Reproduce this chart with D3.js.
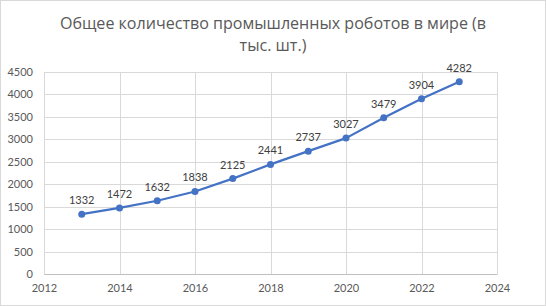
<!DOCTYPE html>
<html>
<head>
<meta charset="utf-8">
<script src="https://cdn.jsdelivr.net/npm/d3@7"></script>
<style>
  body { margin: 0; background: #fff; }
  svg { display: block; font-family: Lato, "Open Sans", sans-serif; }
</style>
</head>
<body>
<div id="chart"></div>
<script>
// data
const years = [2013, 2014, 2015, 2016, 2017, 2018, 2019, 2020, 2021, 2022, 2023];
const robots = [1332, 1472, 1632, 1838, 2125, 2441, 2737, 3027, 3479, 3904, 4282];
const xTicks = [2012, 2014, 2016, 2018, 2020, 2022, 2024];
const yTicks = [0, 500, 1000, 1500, 2000, 2500, 3000, 3500, 4000, 4500];
const titleLines = ["Общее количество промышленных роботов в мире (в", "тыс. шт.)"];

const W = 546, H = 306;
const margin = { top: 72, right: 49, bottom: 32, left: 44 };

const svg = d3.select("#chart").append("svg")
    .attr("width", W)
    .attr("height", H);

// outer border
svg.append("rect")
    .attr("x", 0.5).attr("y", 0.5)
    .attr("width", W - 1).attr("height", H - 1)
    .attr("fill", "#fff")
    .attr("stroke", "#d9d9d9");

const x = d3.scaleLinear().domain([2012, 2024]).range([margin.left, W - margin.right]);
const y = d3.scaleLinear().domain([0, 4500]).range([H - margin.bottom, margin.top]);

// title (Calibri-like narrow look: squeeze Open Sans a bit)
const title = svg.append("g").selectAll("text")
    .data(titleLines)
    .enter().append("text")
    .attr("x", W / 2)
    .attr("y", (d, i) => 29 + i * 22)
    .attr("text-anchor", "middle")
    .attr("fill", "#595959")
    .style("font-family", "\"Open Sans\", sans-serif")
    .style("font-size", "17px")
    .text(d => d);
title.each(function () {
    const w = this.getComputedTextLength();
    d3.select(this).attr("textLength", w * 0.945).attr("lengthAdjust", "spacingAndGlyphs");
});

// gridlines
svg.append("g")
    .selectAll("line.h")
    .data(yTicks)
    .enter().append("line")
    .attr("x1", margin.left).attr("x2", W - margin.right)
    .attr("y1", d => Math.round(y(d)) + 0.5).attr("y2", d => Math.round(y(d)) + 0.5)
    .attr("stroke", "#d9d9d9");

svg.append("g")
    .selectAll("line.v")
    .data(xTicks)
    .enter().append("line")
    .attr("y1", margin.top).attr("y2", H - margin.bottom)
    .attr("x1", d => Math.round(x(d)) + 0.5).attr("x2", d => Math.round(x(d)) + 0.5)
    .attr("stroke", "#d9d9d9");

// axes
const yAxis = svg.append("g")
    .attr("transform", `translate(${margin.left},0)`)
    .call(d3.axisLeft(y).tickValues(yTicks).tickSize(0).tickPadding(11).tickFormat(d3.format("d")));
yAxis.select(".domain").remove();

const xAxis = svg.append("g")
    .attr("transform", `translate(0,${H - margin.bottom})`)
    .call(d3.axisBottom(x).tickValues(xTicks).tickSize(0).tickPadding(10).tickFormat(d3.format("d")));
xAxis.select(".domain").attr("stroke", "#bfbfbf");

svg.selectAll(".tick text")
    .attr("fill", "#595959")
    .style("font-size", "11px")
    .style("font-family", "Lato, \"Open Sans\", sans-serif");

// series
const pts = years.map((yr, i) => ({ year: yr, value: robots[i] }));

svg.append("path")
    .datum(pts)
    .attr("fill", "none")
    .attr("stroke", "#4472c4")
    .attr("stroke-width", 2.25)
    .attr("stroke-linejoin", "round")
    .attr("d", d3.line().x(d => x(d.year)).y(d => y(d.value)));

svg.append("g").selectAll("circle")
    .data(pts)
    .enter().append("circle")
    .attr("cx", d => x(d.year))
    .attr("cy", d => y(d.value))
    .attr("r", 3.5)
    .attr("fill", "#4472c4");

svg.append("g").selectAll("text")
    .data(pts)
    .enter().append("text")
    .attr("x", d => x(d.year))
    .attr("y", d => y(d.value) - 10)
    .attr("text-anchor", "middle")
    .attr("fill", "#404040")
    .style("font-size", "11px")
    .text(d => d.value);
</script>
</body>
</html>
